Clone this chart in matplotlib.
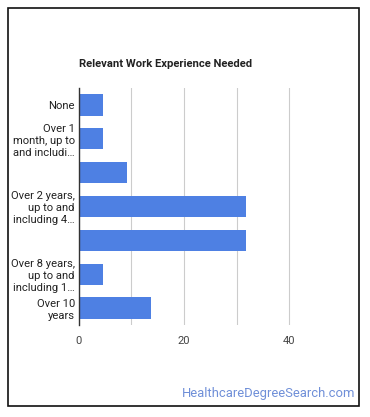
import matplotlib.pyplot as plt
from matplotlib.patches import Rectangle

plt.rcParams['font.family'] = ['Roboto', 'DejaVu Sans']

# Data
categories = [
    'None',
    'Over 1\nmonth, up to\nand includi\u2026',
    '',
    'Over 2 years,\nup to and\nincluding 4\u2026',
    '',
    'Over 8 years,\nup to and\nincluding 1\u2026',
    'Over 10\nyears',
]
values = [4.55, 4.55, 9.09, 31.82, 31.82, 4.55, 13.64]
xticks = [0, 20, 40]

fig = plt.figure(figsize=(3.7, 4.17), dpi=100)
ax = fig.add_axes([0.2135, 0.2206, 0.7095, 0.5684])

ypos = list(range(len(categories)))
ax.barh(ypos, values, height=0.63, color='#4e80e3', zorder=3)
ax.set_yticks(ypos)
ax.set_yticklabels(categories, fontsize=8.1, color='#222222', linespacing=1.25)
ax.set_ylim(len(categories) - 0.5, -0.5)
ax.set_xlim(0, 50)
ax.set_xticks(xticks)
ax.set_xticks([10, 30], minor=True)
ax.tick_params(axis='x', which='both', length=0, labelsize=8.1, labelcolor='#444444', pad=8)
ax.tick_params(axis='y', length=0, pad=3)
ax.grid(axis='x', which='both', color='#cccccc', linewidth=0.8, zorder=0)

for side in ['top', 'right', 'bottom']:
    ax.spines[side].set_visible(False)
ax.spines['left'].set_color('#333333')
ax.spines['left'].set_linewidth(1.0)
ax.spines['left'].set_zorder(4)

fig.text(79 / 370, 1 - 64 / 417, 'Relevant Work Experience Needed',
         fontsize=8.1, fontweight='bold', color='#222222', va='center', ha='left')

fig.text(355 / 370, 1 - 394 / 417, 'HealthcareDegreeSearch.com',
         fontsize=9.4, color='#6f8fd8', va='center', ha='right')

# Outer border
fig.patches.append(Rectangle((8 / 370, 1 - 406 / 417), 351 / 370, 398 / 417,
                             transform=fig.transFigure, fill=False,
                             edgecolor='#111111', linewidth=1.2))

plt.savefig('out.png', dpi=100)
